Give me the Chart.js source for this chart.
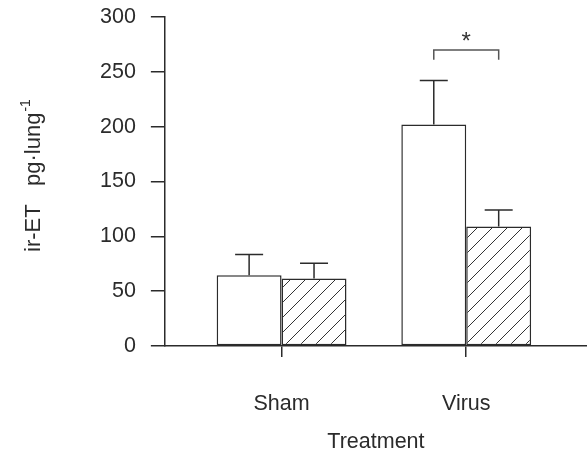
<!DOCTYPE html>
<html>
<head>
<meta charset="utf-8">
<script src="https://cdn.jsdelivr.net/npm/chart.js@4.4.0/dist/chart.umd.min.js"></script>
<style>
  html, body { margin: 0; padding: 0; background: #fff; }
  canvas { display: block; }
</style>
</head>
<body>
<canvas id="chart" width="587" height="452"></canvas>
<script>
const categories = ['Sham', 'Virus'];
const openValues = [64.5, 202];
const openErrors = [19, 40];
const hatchedValues = [61.5, 109];
const hatchedErrors = [14, 15];
const yTicks = [0, 50, 100, 150, 200, 250, 300];
// significance bracket over the Virus pair (values on the y scale)
const bracketCategory = 1;
const bracketTop = 270;
const bracketLeg = 261;
const starValue = 281;

const INK = '#2b2b2b';
const FONT = "'Liberation Sans', Arial, Helvetica, sans-serif";

document.addEventListener('DOMContentLoaded', () => {
    const ctx = document.getElementById('chart');

    const makeHatch = () => {
        const size = 15;
        const c = document.createElement('canvas');
        c.width = size;
        c.height = size;
        const g = c.getContext('2d');
        g.fillStyle = '#fff';
        g.fillRect(0, 0, size, size);
        g.strokeStyle = '#333';
        g.lineWidth = 1;
        g.beginPath();
        g.moveTo(-1, size + 1);
        g.lineTo(size + 1, -1);
        g.moveTo(-1, 1);
        g.lineTo(1, -1);
        g.moveTo(size - 1, size + 1);
        g.lineTo(size + 1, size - 1);
        g.stroke();
        return g.createPattern(c, 'repeat');
    };

    const errorBars = {
        id: 'errorBars',
        afterDatasetsDraw(chart) {
            const c = chart.ctx;
            const yScale = chart.scales.y;
            const errs = [openErrors, hatchedErrors];
            c.save();
            c.strokeStyle = INK;
            c.lineWidth = 1.5;
            chart.data.datasets.forEach((ds, di) => {
                chart.getDatasetMeta(di).data.forEach((bar, i) => {
                    const v = ds.data[i].y;
                    const yTop = yScale.getPixelForValue(v + errs[di][i]);
                    c.beginPath();
                    c.moveTo(bar.x, bar.y);
                    c.lineTo(bar.x, yTop);
                    c.moveTo(bar.x - 14, yTop);
                    c.lineTo(bar.x + 14, yTop);
                    c.stroke();
                });
            });
            c.restore();
        }
    };

    const significance = {
        id: 'significance',
        afterDatasetsDraw(chart) {
            const c = chart.ctx;
            const yScale = chart.scales.y;
            const a = chart.getDatasetMeta(0).data[bracketCategory];
            const b = chart.getDatasetMeta(1).data[bracketCategory];
            const yt = yScale.getPixelForValue(bracketTop);
            const yl = yScale.getPixelForValue(bracketLeg);
            c.save();
            c.strokeStyle = '#555';
            c.lineWidth = 1.5;
            c.beginPath();
            c.moveTo(a.x, yl);
            c.lineTo(a.x, yt);
            c.lineTo(b.x, yt);
            c.lineTo(b.x, yl);
            c.stroke();
            c.fillStyle = '#333';
            c.font = '24px ' + FONT;
            c.textAlign = 'center';
            c.textBaseline = 'middle';
            c.fillText('*', (a.x + b.x) / 2, yScale.getPixelForValue(starValue) + 5);
            c.restore();
        }
    };

    const yTitle = {
        id: 'yTitle',
        afterDraw(chart) {
            const c = chart.ctx;
            c.save();
            c.translate(40, 252);
            c.rotate(-Math.PI / 2);
            c.fillStyle = INK;
            c.textAlign = 'left';
            c.textBaseline = 'alphabetic';
            c.font = '22px ' + FONT;
            const main = 'ir-ET   pg\u00B7lung';
            c.fillText(main, 0, 0);
            const w = c.measureText(main).width;
            c.font = '14px ' + FONT;
            c.fillText('-1', w + 1, -10);
            c.restore();
        }
    };

    const hatch = makeHatch();

    new Chart(ctx, {
        type: 'bar',
        data: {
            datasets: [
                {
                    label: 'open',
                    data: openValues.map((v, i) => ({ x: i, y: v })),
                    backgroundColor: '#fff',
                    borderColor: INK,
                    borderWidth: 1.5,
                    borderSkipped: false
                },
                {
                    label: 'hatched',
                    data: hatchedValues.map((v, i) => ({ x: i, y: v })),
                    backgroundColor: hatch,
                    borderColor: INK,
                    borderWidth: 1.5,
                    borderSkipped: false
                }
            ]
        },
        options: {
            responsive: false,
            animation: false,
            events: [],
            categoryPercentage: 0.703,
            barPercentage: 1,
            layout: { padding: { left: 85, top: 17, right: 0, bottom: -3 } },
            plugins: {
                legend: { display: false },
                tooltip: { enabled: false }
            },
            scales: {
                x: {
                    type: 'linear',
                    offset: false,
                    min: -0.632,
                    max: 1.654,
                    afterBuildTicks: (scale) => {
                        scale.ticks = categories.map((c, i) => ({ value: i }));
                    },
                    afterFit: (scale) => {
                        scale.height = 109;
                        scale.paddingLeft = 0;
                        scale.paddingRight = 0;
                    },
                    border: { color: INK, width: 1.5 },
                    grid: { offset: false, drawOnChartArea: false, color: INK, lineWidth: 1.5, tickLength: 11 },
                    ticks: {
                        padding: 34,
                        color: INK,
                        font: { family: FONT, size: 21.5 },
                        callback: (v) => categories[v]
                    },
                    title: {
                        display: true,
                        text: 'Treatment',
                        color: INK,
                        font: { family: FONT, size: 21.5 },
                        padding: { top: 0, bottom: 0 }
                    }
                },
                y: {
                    min: 0,
                    max: 300,
                    afterBuildTicks: (scale) => {
                        scale.ticks = yTicks.map(v => ({ value: v }));
                    },
                    afterFit: (scale) => {
                        scale.paddingTop = 0;
                        scale.paddingBottom = 0;
                    },
                    border: { color: INK, width: 1.5 },
                    grid: { drawOnChartArea: false, color: INK, lineWidth: 1.5, tickLength: 14 },
                    ticks: {
                        padding: 15,
                        color: INK,
                        font: { family: FONT, size: 21.5 }
                    }
                }
            }
        },
        plugins: [errorBars, significance, yTitle]
    });
});
</script>
</body>
</html>
